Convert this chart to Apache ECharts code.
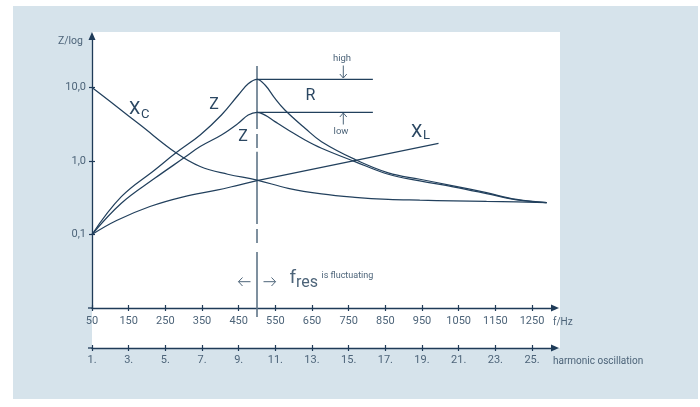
<!DOCTYPE html>
<html><head><meta charset="utf-8">
<script src="https://cdn.jsdelivr.net/npm/echarts@6/dist/echarts.min.js"></script>
<style>html,body{margin:0;padding:0;background:#fff}#c{width:700px;height:407px}</style>
</head><body><div id="c"></div>
<script>
// ---- data ----
const fTicks = [50,150,250,350,450,550,650,750,850,950,1050,1150,1250];
const harmonicTicks = [1,3,5,7,9,11,13,15,17,19,21,23,25];
const harmonicLabels = ['1.','3.','5.','7.','9.','11.','13.','15.','17.','19.','21.','23.','25.'];
const yTickValues = [0.1, 1, 10];
const yTickLabels = ['0,1', '1,0', '10,0'];

const xcFreq = [50,117,181,281,345,420,500,585,676,767,858,944,1035,1126,1208,1290];
const xcVal  = [10,5.5,3.1,1.27,0.84,0.66,0.55,0.425,0.356,0.32,0.30,0.293,0.287,0.282,0.278,0.271];

// XL: curved part up to resonance, then straight part
const xlFreq = [50,117,208,299,390,450,500];
const xlVal  = [0.1,0.155,0.24,0.325,0.40,0.47,0.54];
const xlLinFreq = [500,995];
const xlLinVal  = [0.54,1.74];

const zHighFreq = [50,130,221,280,345,403,449,476,500,522,549,576,631,676,767,858,944,1035,1126,1208,1290];
const zHighVal  = [0.1,0.327,0.755,1.30,2.26,4.22,7.9,11.2,12.9,10.8,7.1,4.94,2.79,1.83,1.05,0.69,0.564,0.46,0.37,0.30,0.271];

const zLowFreq = [50,130,221,303,345,403,449,476,500,522,549,585,631,676,767,858,944,1035,1126,1208,1290];
const zLowVal  = [0.1,0.266,0.58,1.12,1.57,2.26,3.26,4.22,4.6,4.2,3.43,2.64,1.93,1.49,0.98,0.66,0.537,0.445,0.36,0.295,0.271];

const fRes = 500;
const rLineEnd = 816;
const rHigh = 12.9, rLow = 4.6;
// resonance marker segments (value ranges along f = 500, null = gap)
const resMarker = [19.6, 2.72, null, 2.33, 1.50, null, 1.33, 0.139, null, 0.119, 0.0766, null, 0.0578, 0.00755];

// ---- build ----
const L = v => v == null ? null : Math.log10(v);
const pts = (fs, vs) => fs.map((f, i) => [f, L(vs[i])]);
const lineC = '#22405d', axisC = '#1f3b58', txtC = '#4d6479', labC = '#2b4762';
const FONT = 'Roboto';
const curve = (name, data, smooth) => ({
  type: 'line', name, data, symbol: 'none', smooth: smooth,
  lineStyle: { color: lineC, width: 1.25 }, xAxisIndex: 0, yAxisIndex: 0, z: 3
});
const fmtNear = (ticks, labels, tr) => v => {
  for (let i = 0; i < ticks.length; i++) if (Math.abs(tr(ticks[i]) - v) < 1e-6) return labels[i];
  return '';
};
const yLogTicks = yTickValues.map(L);
const xMax = 1312.7;

const chart = echarts.init(document.getElementById('c'), null, { renderer: 'canvas' });
const tickLS = { color: axisC, width: 1.2 };
const option = {
  backgroundColor: '#ffffff',
  animation: false,
  grid: { left: 92, top: 36, width: 463, height: 272, containLabel: false },
  xAxis: [
    { type: 'value', min: 50, max: xMax, position: 'bottom',
      axisLine: { show: true, onZero: false, symbol: ['none', 'triangle'], symbolSize: [7, 8], lineStyle: { color: axisC, width: 1.3 } },
      axisTick: { show: true, customValues: fTicks, inside: false, length: 3, lineStyle: tickLS },
      axisLabel: { customValues: fTicks, margin: 8, color: txtC, fontFamily: FONT, fontSize: 11, formatter: v => String(Math.round(v)) },
      splitLine: { show: false } },
    { type: 'value', min: 50, max: xMax, position: 'bottom',
      axisLine: { show: false, onZero: false },
      axisTick: { show: true, customValues: fTicks, inside: true, length: 3, lineStyle: tickLS },
      axisLabel: { show: false }, splitLine: { show: false } },
    { type: 'value', min: 1, max: xMax / 50, position: 'bottom', offset: 40,
      axisLine: { show: true, onZero: false, symbol: ['none', 'triangle'], symbolSize: [7, 8], lineStyle: { color: axisC, width: 1.3 } },
      axisTick: { show: true, customValues: harmonicTicks, inside: false, length: 3, lineStyle: tickLS },
      axisLabel: { customValues: harmonicTicks, margin: 7, color: txtC, fontFamily: FONT, fontSize: 11,
        formatter: fmtNear(harmonicTicks, harmonicLabels, v => v) },
      splitLine: { show: false } },
    { type: 'value', min: 1, max: xMax / 50, position: 'bottom', offset: 40,
      axisLine: { show: false, onZero: false },
      axisTick: { show: true, customValues: harmonicTicks, inside: true, length: 3, lineStyle: tickLS },
      axisLabel: { show: false }, splitLine: { show: false } }
  ],
  yAxis: [
    { type: 'value', min: -2, max: 1.7, position: 'left',
      axisLine: { show: true, onZero: false, symbol: ['none', 'triangle'], symbolSize: [7, 8], lineStyle: { color: axisC, width: 1.3 } },
      axisTick: { show: true, customValues: yLogTicks, inside: false, length: 3, lineStyle: tickLS },
      axisLabel: { customValues: yLogTicks, margin: 6, color: txtC, fontFamily: FONT, fontSize: 11,
        formatter: fmtNear(yTickValues, yTickLabels, L) },
      splitLine: { show: false } },
    { type: 'value', min: -2, max: 1.7, position: 'left',
      axisLine: { show: false, onZero: false },
      axisTick: { show: true, customValues: yLogTicks, inside: true, length: 3, lineStyle: tickLS },
      axisLabel: { show: false }, splitLine: { show: false } }
  ],
  series: [
    curve('XC', pts(xcFreq, xcVal), 0.4),
    curve('XL', pts(xlFreq, xlVal), 0.4),
    curve('XL linear', pts(xlLinFreq, xlLinVal), false),
    curve('Z high', pts(zHighFreq, zHighVal), 0.4),
    curve('Z low', pts(zLowFreq, zLowVal), 0.4),
    { type: 'line', name: 'R high', symbol: 'none', data: [[fRes, L(rHigh)], [rLineEnd, L(rHigh)]], lineStyle: { color: lineC, width: 1.25 }, z: 3 },
    { type: 'line', name: 'R low', symbol: 'none', data: [[fRes, L(rLow)], [rLineEnd, L(rLow)]], lineStyle: { color: lineC, width: 1.25 }, z: 3 },
    { type: 'line', name: 'fres', symbol: 'none', clip: false, connectNulls: false,
      data: resMarker.map(v => [fRes, L(v)]), lineStyle: { color: '#5f7588', width: 1.6 }, z: 2 }
  ],
  graphic: [
    { type: 'rect', z: -20, shape: { x: 13, y: 6, width: 685, height: 393 }, style: { fill: '#d6e3eb' } },
    { type: 'rect', z: -19, shape: { x: 92, y: 32, width: 468, height: 316 }, style: { fill: '#ffffff' } },
    { type: 'line', z: 5, shape: { x1: 88, y1: 308, x2: 92, y2: 308 }, style: { stroke: axisC, lineWidth: 1.3 } },
    { type: 'line', z: 5, shape: { x1: 88, y1: 348, x2: 92, y2: 348 }, style: { stroke: axisC, lineWidth: 1.3 } },
    { type: 'text', z: 10, x: 83, y: 41, style: { text: 'Z/log', fill: txtC, font: '10.5px Roboto', align: 'right', verticalAlign: 'middle' } },
    { type: 'text', z: 10, x: 553, y: 322, style: { text: 'f/Hz', fill: txtC, font: '10px Roboto', align: 'left', verticalAlign: 'middle' } },
    { type: 'text', z: 10, x: 553, y: 361, style: { text: 'harmonic oscillation', fill: txtC, font: '10px Roboto', align: 'left', verticalAlign: 'middle' } },
    { type: 'text', z: 10, x: 129, y: 109.5, style: { text: 'X', fill: labC, font: '18px Roboto', align: 'left', verticalAlign: 'middle' } },
    { type: 'text', z: 10, x: 141, y: 114.5, style: { text: 'C', fill: labC, font: '13px Roboto', align: 'left', verticalAlign: 'middle' } },
    { type: 'text', z: 10, x: 411, y: 132, style: { text: 'X', fill: labC, font: '18px Roboto', align: 'left', verticalAlign: 'middle' } },
    { type: 'text', z: 10, x: 423, y: 136, style: { text: 'L', fill: labC, font: '13px Roboto', align: 'left', verticalAlign: 'middle' } },
    { type: 'text', z: 10, x: 214, y: 104.5, style: { text: 'Z', fill: labC, font: '16px Roboto', align: 'center', verticalAlign: 'middle' } },
    { type: 'text', z: 10, x: 243, y: 137, style: { text: 'Z', fill: labC, font: '16px Roboto', align: 'center', verticalAlign: 'middle' } },
    { type: 'text', z: 10, x: 310.5, y: 96, style: { text: 'R', fill: labC, font: '16px Roboto', align: 'center', verticalAlign: 'middle' } },
    { type: 'text', z: 10, x: 342, y: 58.5, style: { text: 'high', fill: txtC, font: '9.5px Roboto', align: 'center', verticalAlign: 'middle' } },
    { type: 'text', z: 10, x: 341, y: 131.5, style: { text: 'low', fill: txtC, font: '9.5px Roboto', align: 'center', verticalAlign: 'middle' } },
    { type: 'polyline', z: 10, shape: { points: [[343.3, 65.5], [343.3, 78]] }, style: { stroke: txtC, lineWidth: 1, fill: null } },
    { type: 'polyline', z: 10, shape: { points: [[339.8, 74], [343.3, 78], [346.8, 74]] }, style: { stroke: txtC, lineWidth: 1, fill: null } },
    { type: 'polyline', z: 10, shape: { points: [[343.3, 124.5], [343.3, 113]] }, style: { stroke: txtC, lineWidth: 1, fill: null } },
    { type: 'polyline', z: 10, shape: { points: [[339.8, 117], [343.3, 113], [346.8, 117]] }, style: { stroke: txtC, lineWidth: 1, fill: null } },
    { type: 'polyline', z: 10, shape: { points: [[238.5, 281.7], [250.5, 281.7]] }, style: { stroke: txtC, lineWidth: 1, fill: null } },
    { type: 'polyline', z: 10, shape: { points: [[242.5, 277.5], [238.5, 281.7], [242.5, 286]] }, style: { stroke: txtC, lineWidth: 1, fill: null } },
    { type: 'polyline', z: 10, shape: { points: [[263.5, 281.7], [275.5, 281.7]] }, style: { stroke: txtC, lineWidth: 1, fill: null } },
    { type: 'polyline', z: 10, shape: { points: [[271.5, 277.5], [275.5, 281.7], [271.5, 286]] }, style: { stroke: txtC, lineWidth: 1, fill: null } },
    { type: 'text', z: 10, x: 289.5, y: 278.5, style: { text: 'f', fill: txtC, font: '19px Roboto', align: 'left', verticalAlign: 'middle' } },
    { type: 'text', z: 10, x: 296, y: 282.5, style: { text: 'res', fill: txtC, font: '16px Roboto', align: 'left', verticalAlign: 'middle' } },
    { type: 'text', z: 10, x: 321.5, y: 275.5, style: { text: 'is fluctuating', fill: txtC, font: '9px Roboto', align: 'left', verticalAlign: 'middle' } }
  ]
};
chart.setOption(option);
</script>
</body></html>
